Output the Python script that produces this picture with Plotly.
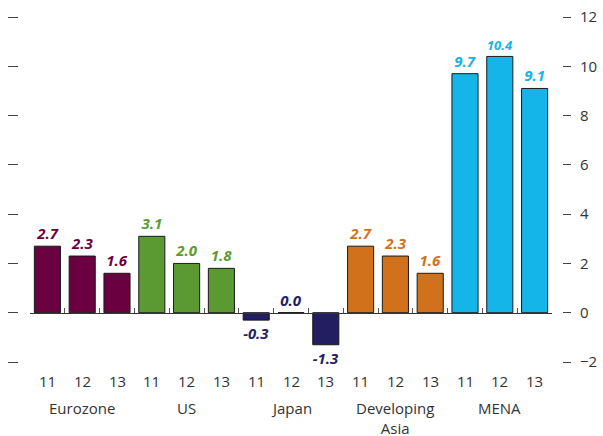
import plotly.graph_objects as go

# Inflation-style grouped values: three years per region
regions = ["Eurozone", "US", "Japan", "Developing<br>Asia", "MENA"]
years = ["11", "12", "13"]
eurozone = [2.7, 2.3, 1.6]
us = [3.1, 2.0, 1.8]
japan = [-0.3, 0.0, -1.3]
dev_asia = [2.7, 2.3, 1.6]
mena = [9.7, 10.4, 9.1]
region_colors = ["#6b0040", "#5b9a32", "#231d62", "#d2711c", "#14b5e8"]
y_ticks = [-2, 0, 2, 4, 6, 8, 10, 12]

series = [eurozone, us, japan, dev_asia, mena]

W, H = 603, 436
x_left, x_right = 30, 552     # plot area in pixels
y_top, y_bot = 17, 362        # pixel rows of 12 and -2


def py(p):
    return 1 - p / H


def px(p):
    return p / W


xs, vals, cols, labels = [], [], [], []
for g, (vals_g, col) in enumerate(zip(series, region_colors)):
    for k, v in enumerate(vals_g):
        xs.append(g * 3 + k)
        vals.append(v)
        cols.append(col)
        labels.append(f"{v:.1f}")

fig = go.Figure()
fig.add_trace(go.Bar(
    x=xs, y=vals,
    marker=dict(color=cols, line=dict(color="#1a1a1a", width=1)),
    text=labels, textposition="outside",
    textfont=dict(family="Open Sans", size=15, color=cols, weight="bold", style="italic"),
    cliponaxis=False, width=0.75, showlegend=False,
))

fig.update_layout(
    width=W, height=H,
    margin=dict(l=0, r=0, t=0, b=0, autoexpand=False),
    paper_bgcolor="white", plot_bgcolor="white",
    font=dict(family="Open Sans", color="#333333"),
    xaxis=dict(
        domain=[px(x_left), px(x_right)], range=[-0.5, 14.5],
        anchor="free", position=py(313), automargin=False,
        showgrid=False, zeroline=False, showline=True,
        linecolor="#333333", linewidth=1,
        tickvals=[i - 0.5 for i in range(16)], ticks="inside",
        ticklen=5, tickcolor="#555555", showticklabels=False,
    ),
    # right-hand scale with labels
    yaxis=dict(
        domain=[py(y_bot), py(y_top)], range=[-2, 12],
        anchor="free", position=px(562), side="right", automargin=False,
        tickvals=y_ticks, ticks="outside", ticklen=8, tickcolor="#444444",
        tickfont=dict(size=15, color="#333333"), ticklabelstandoff=6,
        showgrid=False, zeroline=False, showline=False,
    ),
    # left-hand tick marks only
    yaxis2=dict(
        overlaying="y", range=[-2, 12],
        anchor="free", position=px(18), side="left", automargin=False,
        tickvals=y_ticks, ticks="outside", ticklen=10, tickcolor="#444444",
        showticklabels=False, showgrid=False, zeroline=False, showline=False,
    ),
)

# invisible trace so the left tick axis is drawn
fig.add_trace(go.Scatter(x=[0], y=[0], yaxis="y2", mode="markers",
                         marker=dict(opacity=0), showlegend=False, hoverinfo="skip"))

annotations = []
for g, name in enumerate(regions):
    for k, yr in enumerate(years):
        annotations.append(dict(
            x=g * 3 + k, xref="x", y=py(381), yref="paper",
            text=yr, showarrow=False, yanchor="middle",
            font=dict(size=15, color="#333333"),
        ))
    annotations.append(dict(
        x=g * 3 + 1, xref="x", y=py(396), yref="paper",
        text=name, showarrow=False, yanchor="top",
        font=dict(size=15, color="#333333"),
    ))
fig.update_layout(annotations=annotations)

fig.write_html("out.html")
